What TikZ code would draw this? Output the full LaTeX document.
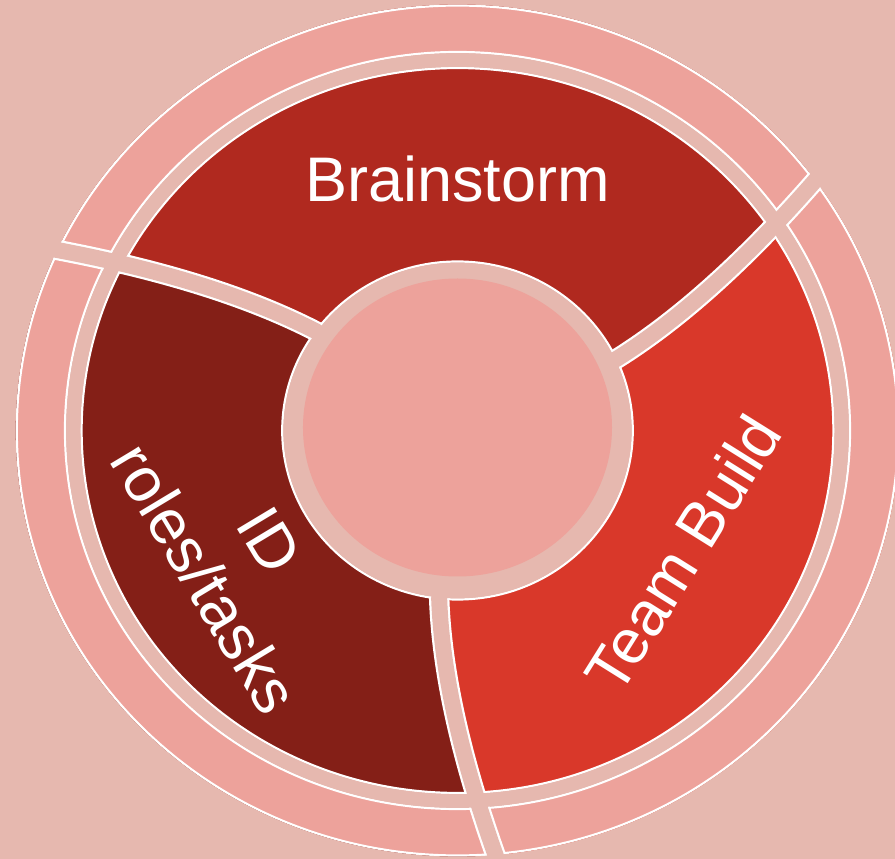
\documentclass[tikz,border=0pt]{standalone}
\usepackage{fontspec}
\setmainfont{Liberation Sans}
\usepackage{tikz}
\definecolor{bgpink}{HTML}{E6B8AF}
\definecolor{ringpink}{HTML}{EDA29B}
\definecolor{brainred}{HTML}{B0291F}
\definecolor{idred}{HTML}{841F17}
\definecolor{teamred}{HTML}{D9382A}
\tikzset{
  lbl/.style={text=white, font=\fontsize{63}{75}\selectfont, align=center},
  gapband/.style={white, line width=2.2pt, double=bgpink, double distance=16pt}
}

\begin{document}
\begin{tikzpicture}[x=1pt, y=1pt]
      \useasboundingbox (-457.5,-428.5) rectangle (437.5,430.5);
      \clip (-457.5,-428.5) rectangle (437.5,430.5);
      \fill[bgpink] (-457.5,-428.5) rectangle (437.5,430.5);
      \begin{scope}[xscale=1.037]
            \foreach \a/\b/\c in {25/144/brainred, 144/264/idred, 264/385/teamred}
                  \fill[\c] (\a:169) .. controls ({\a+2.66}:254) and ({\a+7.6}:346) .. ({\a+11}:428)
                        arc[start angle=\a+11, end angle=\b+11, radius=428]
                        .. controls ({\b+7.6}:346) and ({\b+2.66}:254) .. (\b:169)
                        arc[start angle=\b, end angle=\a, radius=169] -- cycle;
            \fill[ringpink, even odd rule] (0,0) circle[radius=425] (0,0) circle[radius=378.5];
            \fill[bgpink, even odd rule] (0,0) circle[radius=378.5] (0,0) circle[radius=362.5];
            \draw[white, line width=2.2pt] (0,0) circle[radius=169] (0,0) circle[radius=362.5]
                  (0,0) circle[radius=378.5] (0,0) circle[radius=425];
            \foreach \a in {25,144,264}
                  \draw[gapband] (\a:140) -- (\a:169) .. controls ({\a+2.66}:254) and ({\a+7.6}:346)
                        .. ({\a+11}:428) -- ({\a+11.7}:449);
            \fill[bgpink] (0,0) circle[radius=167.9];
            \fill[bgpink, even odd rule] (0,0) circle[radius=377.4] (0,0) circle[radius=363.6];
            \fill[bgpink, even odd rule] (0,0) circle[radius=600] (0,0) circle[radius=426.1];
            \fill[ringpink] (0,3) circle[radius=149];
      \end{scope}
      \node[lbl] (brain) at (0,252) {Brainstorm};
      \node[lbl, rotate=58] (team) at (225,-123) {Team Build};
      \node[lbl, rotate=-59] (idroles) at (-221,-129) {ID\\roles/tasks};
\end{tikzpicture}
\end{document}
